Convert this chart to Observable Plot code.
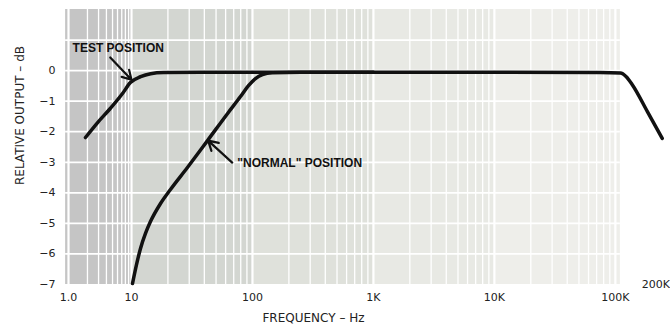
<!DOCTYPE html>
<html><head><meta charset="utf-8">
<script src="https://cdn.jsdelivr.net/npm/d3@7"></script>
<script src="https://cdn.jsdelivr.net/npm/@observablehq/plot@0.6"></script>
<style>body{margin:0;background:#fff} svg{display:block}</style>
</head><body><div id="chart"></div>
<script>
// "TEST POSITION" curve (Hz, dB)
const testFreq = [1.86, 2.9, 4.6, 7.2, 9.6, 11.9, 14.4, 18.4, 37, 1000, 10000, 75000, 110000, 123000, 138000, 184000, 244000];
const testDb   = [-2.19, -1.70, -1.24, -0.75, -0.39, -0.20, -0.10, -0.06, -0.05, -0.05, -0.05, -0.06, -0.08, -0.20, -0.46, -1.34, -2.22];
// "NORMAL" POSITION curve
const normalFreq = [10.19, 11.0, 11.87, 13.05, 14.35, 17.37, 21.0, 29.0, 42.5, 62.1, 79.6, 92.7, 105.9, 121, 146, 249, 1000];
const normalDb   = [-6.97, -6.35, -5.82, -5.33, -4.94, -4.35, -3.89, -3.17, -2.29, -1.41, -0.85, -0.49, -0.26, -0.13, -0.07, -0.05, -0.05];
// axes
const xTickValues = [1, 10, 100, 1000, 10000, 100000];
const xTickLabels = ["1.0", "10", "100", "1K", "10K", "100K"];
const yTickValues = [0, -1, -2, -3, -4, -5, -6, -7];
const yTickLabels = ["0", "\u22121", "\u22122", "\u22123", "\u22124", "\u22125", "\u22126", "\u22127"];
const endLabel = ["200K"];
const endLabelFreq = [200000];
const endLabelDb = [-7];
const yTitle = "RELATIVE OUTPUT \u2013 dB";
const xTitle = "FREQUENCY \u2013 Hz";
// annotations
const noteTexts = ["TEST POSITION", "\"NORMAL\" POSITION"];
const noteFreq = [1.16, 75];
const noteDb = [0.72, -3.04];
const arrowFrom = [[4.6, 0.43], [68, -3.01]];
const arrowTo = [[10, -0.30], [43, -2.29]];
// graph paper
const paperEdges = [0.9, 10, 100, 1000, 10000, 110000];
const paperDecades = [1, 10, 100, 1000, 10000];
const paperMultiples = [1, 2, 3, 4, 5, 6, 7, 8, 9];
const paperDbLines = [-6, -5, -4, -3, -2, -1, 0, 1];

const shades = ["#c5c5c5", "#d3d6d1", "#dfe1db", "#e8e9e4", "#eeeeea"];
const bands = paperEdges.slice(0, -1).map((e, i) => ({x1: e, x2: paperEdges[i + 1], i}));
const vLines = paperDecades.flatMap(d => paperMultiples.map(k => ({f: k * d, major: k === 1}))).concat([{f: 100000, major: true}]);
const test = testFreq.map((f, i) => ({f, db: testDb[i]}));
const normal = normalFreq.map((f, i) => ({f, db: normalDb[i]}));
const notes = noteTexts.map((t, i) => ({t, f: noteFreq[i], db: noteDb[i]}));
const arrows = arrowFrom.map((a, i) => ({x1: a[0], y1: a[1], x2: arrowTo[i][0], y2: arrowTo[i][1]}));

const chart = Plot.plot({
  width: 670, height: 324,
  marginLeft: 65, marginRight: 7, marginTop: 9, marginBottom: 40,
  x: {type: "log", domain: [1, 10, 250000], range: [68, 131, 663]},
  y: {domain: [-7, 2]},
  style: {fontFamily: "DejaVu Sans", fontSize: "11px", color: "#222", background: "#fff"},
  marks: [
    Plot.rect(bands, {x1: "x1", x2: "x2", y1: -7, y2: 2, fill: d => shades[d.i]}),
    Plot.ruleX(vLines, {x: "f", y1: -7, y2: 2, stroke: "white", strokeWidth: d => d.major ? 2.2 : 1.3}),
    Plot.ruleY(paperDbLines, {y: d => d, x1: 0.9, x2: 110000, stroke: "white", strokeWidth: 1.8}),
    Plot.line(test, {x: "f", y: "db", curve: "monotone-x", stroke: "#111", strokeWidth: 3.5}),
    Plot.line(normal, {x: "f", y: "db", curve: "monotone-x", stroke: "#111", strokeWidth: 3.5}),
    Plot.arrow(arrows, {x1: "x1", y1: "y1", x2: "x2", y2: "y2", stroke: "#111", strokeWidth: 2.2, headLength: 9}),
    Plot.text(notes, {x: "f", y: "db", text: "t", textAnchor: "start", fontWeight: "bold", fontSize: 12, letterSpacing: "0.4px", fontFamily: "Liberation Sans", fill: "#111"}),
    Plot.axisX({ticks: xTickValues, tickFormat: d => xTickLabels[xTickValues.indexOf(d)], tickSize: 0, tickPadding: 9, label: null}),
    Plot.axisY({ticks: yTickValues, tickFormat: d => yTickLabels[yTickValues.indexOf(d)], tickSize: 0, tickPadding: 10, label: null}),
    Plot.text(endLabel, {x: endLabelFreq, y: endLabelDb, text: d => d, dx: 4, fill: "#222"}),
    Plot.text([yTitle], {frameAnchor: "left", dx: -45, dy: -31.5, rotate: -90, textAnchor: "middle", lineAnchor: "middle", text: d => d, fontSize: 12, letterSpacing: "0.75px", fill: "#222"}),
    Plot.text([xTitle], {frameAnchor: "bottom", dx: -51, dy: 34, textAnchor: "middle", lineAnchor: "middle", text: d => d, fontSize: 12, letterSpacing: "0.5px", fill: "#222"})
  ]
});
document.getElementById("chart").appendChild(chart);
</script>
</body></html>
